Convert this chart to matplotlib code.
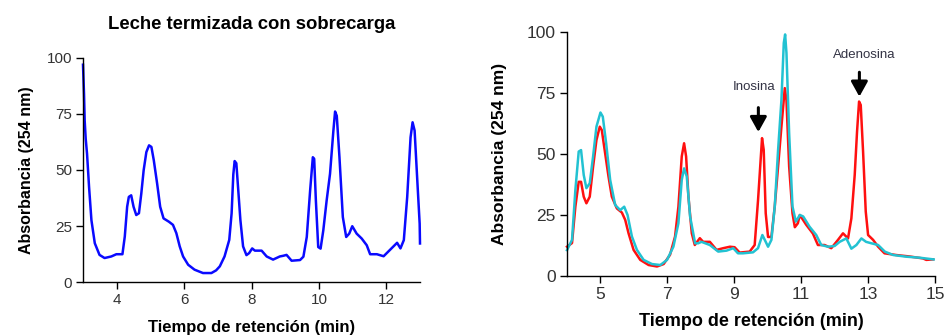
import matplotlib
matplotlib.use("Agg")
import matplotlib.pyplot as plt

plt.rcParams['font.family'] = ['Liberation Sans', 'DejaVu Sans']

# Left panel: leche termizada con sobrecarga
left_x = [3.0, 3.03, 3.05, 3.08, 3.12, 3.18, 3.25, 3.35, 3.49, 3.64, 3.84, 3.99, 4.17, 4.24, 4.31,
          4.36, 4.43, 4.5, 4.58, 4.66, 4.73, 4.8, 4.88, 4.96, 5.03, 5.1, 5.2, 5.29, 5.39, 5.55,
          5.67, 5.77, 5.87, 5.97, 6.12, 6.31, 6.56, 6.81, 6.95, 7.06, 7.2, 7.34, 7.41, 7.46, 7.5,
          7.55, 7.6, 7.67, 7.75, 7.85, 7.93, 8.02, 8.1, 8.3, 8.45, 8.64, 8.84, 8.94, 9.04, 9.19,
          9.44, 9.54, 9.64, 9.74, 9.82, 9.86, 9.91, 9.98, 10.05, 10.13, 10.23, 10.33, 10.43,
          10.48, 10.53, 10.61, 10.71, 10.81, 10.9, 10.99, 11.12, 11.27, 11.42, 11.52, 11.72,
          11.92, 12.12, 12.32, 12.42, 12.52, 12.62, 12.72, 12.78, 12.84, 12.92, 12.99, 13.0]
left_y = [97, 84, 72, 64, 57.2, 42.4, 27.6, 17.3, 12.1, 10.7, 11.4, 12.4, 12.4, 20.3, 33.6,
          38, 38.7, 33.6, 29.9, 30.7, 39.5, 49.9, 58, 61, 60.3, 54.4, 43.9, 33.6, 28.4, 26.9,
          25.5, 21.8, 15.9, 11.4, 7.7, 5.5, 4, 4, 5.2, 7, 11.4, 18.8, 30.7, 48, 54,
          53, 42.5, 27.7, 15.9, 12, 12.9, 15, 14, 14, 11.4, 10, 11.4, 11.7, 12.1, 9.5,
          9.8, 11.3, 20.1, 40.9, 55.7, 55, 36.4, 15.6, 14.9, 23, 36.4, 48.3, 67.6,
          76.1, 74.2, 55.7, 29, 20.1, 21.6, 24.9, 21.6, 19.4, 16.4, 12.4, 12.4,
          11.5, 14.5, 17.5, 15, 18.7, 37.9, 64.6, 71.3, 67.6, 45.3, 26, 17.2]

# Right panel: red trace
red_x = [4.0, 4.15, 4.25, 4.35, 4.42, 4.5, 4.58, 4.68, 4.78, 4.88, 4.98, 5.04, 5.14, 5.24, 5.34,
         5.49, 5.64, 5.74, 5.84, 5.99, 6.19, 6.44, 6.69, 6.89, 7.08, 7.23, 7.33, 7.43, 7.5, 7.56,
         7.63, 7.73, 7.82, 7.97, 8.07, 8.27, 8.47, 8.67, 8.87, 9.01, 9.16, 9.46, 9.61, 9.71, 9.83,
         9.88, 9.94, 10.01, 10.11, 10.21, 10.31, 10.41, 10.51, 10.56, 10.64, 10.74, 10.81, 10.9,
         10.96, 11.15, 11.35, 11.5, 11.7, 11.9, 12.1, 12.25, 12.4, 12.5, 12.6, 12.67, 12.73,
         12.78, 12.85, 12.93, 13.0, 13.15, 13.3, 13.49, 13.84, 14.24, 14.64, 14.74, 14.94]
red_y = [12, 13.5, 28.4, 38.6, 38.6, 32.5, 29.8, 32.5, 44.8, 55.7, 61.2, 59.8, 50.3, 40.8, 32.5,
         27.7, 26, 23, 17.5, 10.7, 6.6, 4.5, 3.9, 4.9, 8.7, 16.2, 28.4, 49, 54.4, 49,
         32.5, 17.5, 12.7, 15.5, 14, 14, 10.7, 11.4, 12, 11.8, 9.6, 10, 12.7, 31, 56.5,
         51.7, 25.7, 16, 16, 28.5, 44.9, 61.3, 77, 72, 44.9, 25.7, 20, 21.6,
         25, 21, 17.4, 12.7, 12.7, 11.4, 14.8, 17.5, 15.4, 23.6, 41.4, 59.2, 71.5,
         70.1, 51, 26.4, 16.8, 14.8, 12, 9.3, 8.6, 8, 7.2, 6.6, 6.8]

# Right panel: cyan trace
cyan_x = [4.0, 4.15, 4.25, 4.35, 4.42, 4.5, 4.58, 4.68, 4.78, 4.88, 5.0, 5.07, 5.17, 5.29, 5.44,
          5.59, 5.71, 5.81, 5.94, 6.09, 6.29, 6.54, 6.79, 6.99, 7.18, 7.33, 7.43, 7.5, 7.58, 7.68,
          7.83, 7.92, 8.02, 8.27, 8.52, 8.77, 8.97, 9.11, 9.26, 9.56, 9.71, 9.84, 9.94, 10.01,
          10.11, 10.21, 10.31, 10.41, 10.48, 10.52, 10.56, 10.64, 10.74, 10.84, 10.96, 11.06,
          11.25, 11.45, 11.6, 11.8, 12.0, 12.15, 12.35, 12.5, 12.65, 12.8, 12.94, 13.1, 13.3,
          13.5, 13.75, 14.15, 14.54, 14.96]
cyan_y = [10.6, 14.8, 35.2, 51, 51.6, 41.4, 36, 38, 49, 61.2, 67, 65.3, 54.4, 39.4, 29.1,
          27, 28.4, 25, 16.2, 10.7, 6.6, 4.9, 4.5, 6.6, 12, 21.6, 39.4, 44.1, 40.8, 24.3,
          13.4, 13.4, 14, 12.7, 10, 10.4, 11.4, 9.3, 9.3, 9.7, 11.4, 16.8, 14, 12,
          14.8, 28.5, 51.7, 72.2, 95.5, 99, 91.4, 58.5, 28.5, 22.3, 25, 24.4,
          20.2, 16.8, 12.7, 12, 12.3, 14, 15.4, 11.2, 12.7, 15.4, 14, 13.4, 12.7,
          10, 8.6, 7.9, 7.5, 6.8]

left_xticks = [4, 6, 8, 10, 12]
right_xticks = [5, 7, 9, 11, 13, 15]
yticks = [0, 25, 50, 75, 100]

title = "Leche termizada con sobrecarga"
xlabel = "Tiempo de retención (min)"
ylabel = "Absorbancia (254 nm)"

W, H = 946, 336
fig = plt.figure(figsize=(W / 100, H / 100), dpi=100)

def box(l, r, t, b):
    return [l / W, (H - b) / H, (r - l) / W, (b - t) / H]

axL = fig.add_axes(box(83, 420, 58, 282))
axR = fig.add_axes(box(567, 935, 32, 276))

tick_color = '#333333'
for ax, fs in ((axL, 11), (axR, 12.5)):
    for s in ('top', 'right'):
        ax.spines[s].set_visible(False)
    for s in ('left', 'bottom'):
        ax.spines[s].set_linewidth(1.0)
        ax.spines[s].set_color('black')
    ax.tick_params(direction='out', length=5, width=1, colors='black',
                   labelcolor=tick_color, labelsize=fs, pad=3)
    ax.set_yticks(yticks)
    ax.set_ylim(0, 100)

axL.plot(left_x, left_y, color='#0a0aff', lw=1.8, clip_on=False)
axL.set_xlim(3, 13)
axL.set_xticks(left_xticks)
axL.set_title(title, fontsize=13.3, fontweight='bold', pad=21)
axL.set_xlabel(xlabel, fontsize=12, fontweight='bold', labelpad=9)
axL.set_ylabel(ylabel, fontsize=11.5, fontweight='bold', labelpad=9)

axR.plot(red_x, red_y, color='#ff1010', lw=1.8, clip_on=False)
axR.plot(cyan_x, cyan_y, color='#22c2d2', lw=1.8, clip_on=False)
axR.set_xlim(4, 15)
axR.set_xticks(right_xticks)
axR.set_xlabel(xlabel, fontsize=13, fontweight='bold', labelpad=8)
axR.set_ylabel(ylabel, fontsize=12.5, fontweight='bold', labelpad=14)

arrow_kw = dict(arrowstyle='-|>,head_length=0.9,head_width=0.5', color='black', lw=2.2,
                shrinkA=0, shrinkB=0)
axR.annotate('', xy=(9.72, 59), xytext=(9.72, 69), arrowprops=arrow_kw)
axR.annotate('', xy=(12.74, 73.5), xytext=(12.74, 83.5), arrowprops=arrow_kw)
axR.text(9.6, 75, 'Inosina', fontsize=9.5, color='#333344', ha='center', va='bottom')
axR.text(12.89, 88, 'Adenosina', fontsize=9.5, color='#333344', ha='center', va='bottom')

fig.savefig('out.png', dpi=100)
